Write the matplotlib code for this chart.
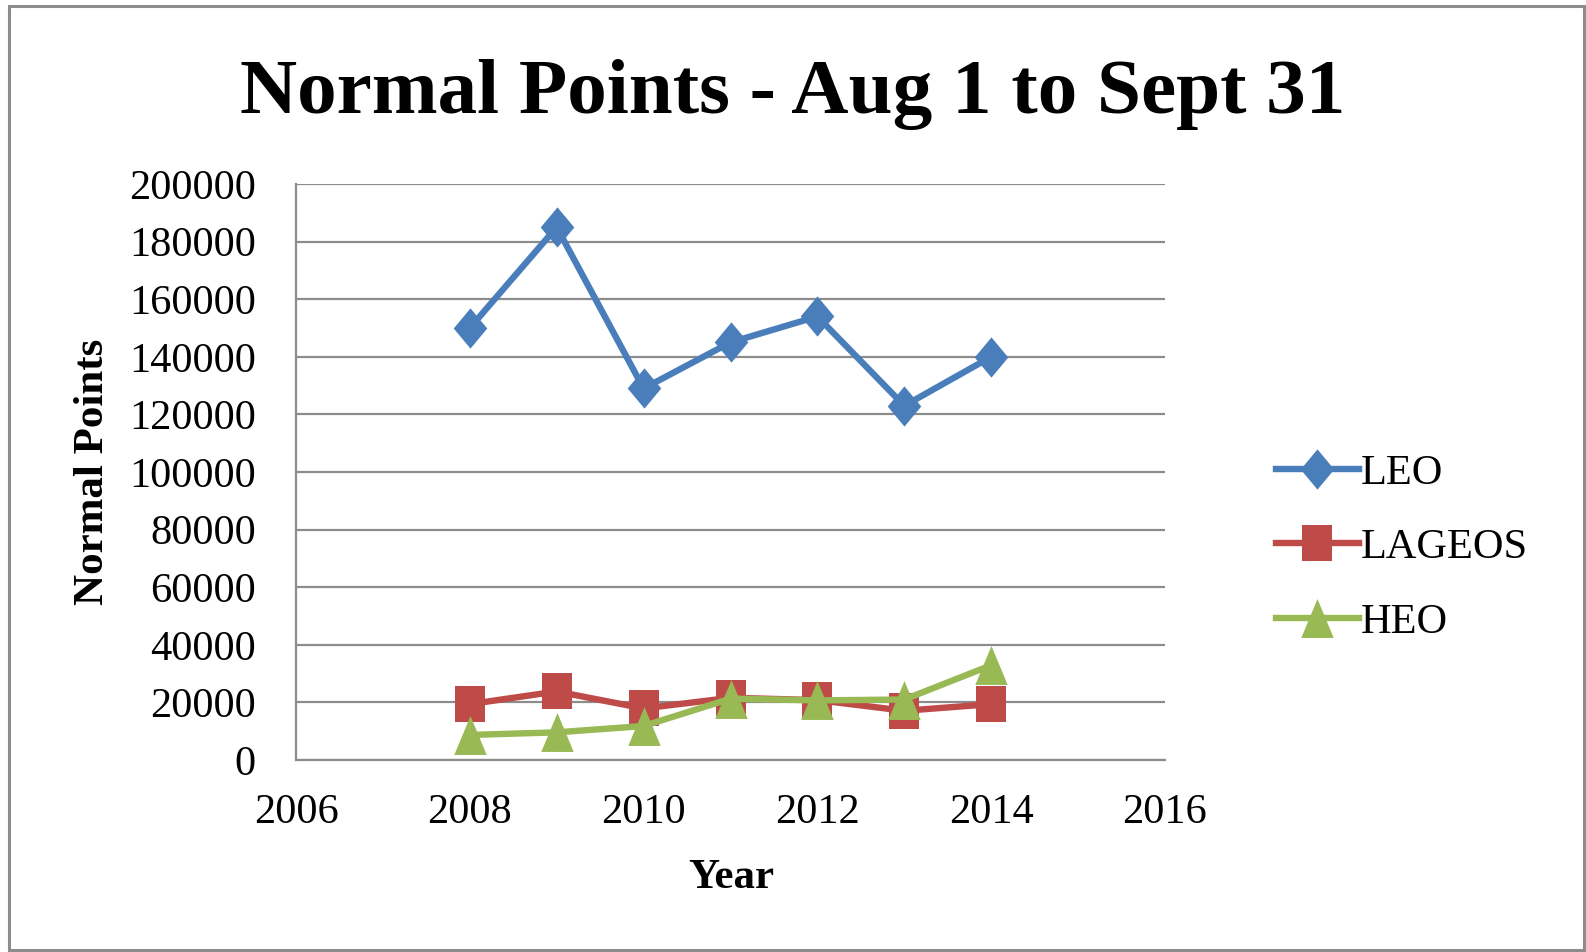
import matplotlib
matplotlib.use("Agg")
import matplotlib.pyplot as plt
from matplotlib.patches import Rectangle

years = [2008, 2009, 2010, 2011, 2012, 2013, 2014]
leo = [150000, 185000, 129000, 145000, 154000, 123000, 140000]
lageos = [19400, 23800, 17900, 21600, 20800, 17100, 19400]
heo = [8700, 9600, 11800, 21300, 20700, 21000, 32900]
series_names = ["LEO", "LAGEOS", "HEO"]
title = "Normal Points - Aug 1 to Sept 31"
x_ticks = [2006, 2008, 2010, 2012, 2014, 2016]
y_ticks = list(range(0, 200001, 20000))

plt.rcParams['font.family'] = ['Liberation Serif', 'DejaVu Serif']

fig = plt.figure(figsize=(15.86, 9.52), dpi=100)
W, H = 1586, 952
ax = fig.add_axes([296 / W, 1 - 760 / H, (1165 - 296) / W, (760 - 184) / H])

diamond = [(0, 0.6), (0.5, 0), (0, -0.6), (-0.5, 0)]
square = [(-0.5, -0.6), (0.5, -0.6), (0.5, 0.6), (-0.5, 0.6)]
triangle = [(-0.5, -0.6), (0.5, -0.6), (0, 0.6)]

colors = ["#4A7EBB", "#BE4B48", "#98B954"]
lw = 4.6
ax.plot(years, leo, color=colors[0], lw=lw, marker=diamond, ms=29, mew=0,
        label=series_names[0], solid_joinstyle='round', zorder=3)
ax.plot(years, lageos, color=colors[1], lw=lw, marker=square, ms=26, mew=0,
        label=series_names[1], solid_joinstyle='round', zorder=3)
ax.plot(years, heo, color=colors[2], lw=lw, marker=triangle, ms=28, mew=0,
        label=series_names[2], solid_joinstyle='round', zorder=4)

ax.set_xlim(2006, 2016)
ax.set_ylim(0, 200000)
ax.set_xticks(x_ticks)
ax.set_yticks(y_ticks)
ax.set_xticklabels([str(v) for v in x_ticks])
ax.set_yticklabels([str(v) for v in y_ticks])
ax.tick_params(axis='both', length=0, labelsize=30.5, colors='black')
ax.tick_params(axis='y', pad=29)
ax.tick_params(axis='x', pad=24)

ax.grid(axis='y', color='#8C8C8C', lw=1.6, zorder=0)
ax.set_axisbelow(True)
for s in ['top', 'right']:
    ax.spines[s].set_visible(False)
for s in ['left', 'bottom']:
    ax.spines[s].set_color('#8C8C8C')
    ax.spines[s].set_linewidth(1.6)

fig.text(0.5, 1 - 113 / H, title, ha='center', va='baseline',
         fontsize=57, fontweight='bold')
fig.text(731 / W, 1 - 888 / H, "Year", ha='center', va='baseline',
         fontsize=31, fontweight='bold')
fig.text(93 / W, 1 - 472 / H, "Normal Points", ha='center', va='center',
         rotation=90, fontsize=31, fontweight='bold')

leg = ax.legend(loc='center left', bbox_to_anchor=(1276 / W, 1 - 548 / H),
                bbox_transform=fig.transFigure, frameon=False, fontsize=30.5,
                handlelength=1.95, handletextpad=0.05, labelspacing=0.84,
                borderpad=0, borderaxespad=0)

fig.patches.append(Rectangle((9 / W, 2 / H), (1584 - 9) / W, (946 - 2) / H,
                             transform=fig.transFigure, fill=False,
                             edgecolor='#8C8C8C', lw=2.2))

fig.savefig("out.png", dpi=100, facecolor='white')
